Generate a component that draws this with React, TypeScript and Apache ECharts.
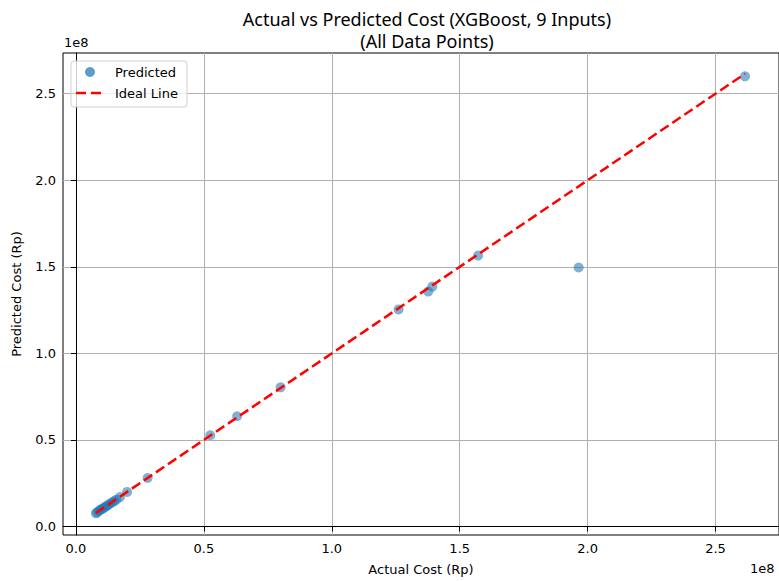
import React, { useEffect, useRef } from "react";
import * as echarts from "echarts";

const actualCost = [
  7.8e6, 8.3e6, 8.9e6, 9.5e6, 1.0e7, 1.07e7, 1.13e7, 1.2e7, 1.27e7, 1.34e7, 1.42e7, 1.5e7, 1.58e7,
  1.72e7, 2.0e7, 2.8e7, 5.25e7, 6.3e7, 8.0e7, 1.261e8, 1.377e8, 1.393e8, 1.572e8, 1.965e8, 2.615e8,
];
const predictedCost = [
  7.6e6, 8.2e6, 8.8e6, 9.7e6, 1.0e7, 1.05e7, 1.12e7, 1.19e7, 1.25e7, 1.33e7, 1.4e7, 1.47e7, 1.55e7,
  1.7e7, 2.0e7, 2.8e7, 5.27e7, 6.37e7, 8.04e7, 1.254e8, 1.357e8, 1.386e8, 1.565e8, 1.496e8, 2.6e8,
];
const xTicks = [0, 0.5e8, 1.0e8, 1.5e8, 2.0e8, 2.5e8];
const yTicks = [0, 0.5e8, 1.0e8, 1.5e8, 2.0e8, 2.5e8];
const legendLabels = ["Predicted", "Ideal Line"];

const TICK_FONT = "DejaVu Sans";
const BLUE = "rgba(31,119,180,0.72)";

export default function App() {
  const ref = useRef<HTMLDivElement>(null);
  useEffect(() => {
    if (!ref.current) return;
    const chart = echarts.init(ref.current, null, { renderer: "svg" });
    const lo = Math.min(...actualCost);
    const hi = Math.max(...actualCost);
    const scatterData = actualCost.map((a, i) => [a, predictedCost[i]]);
    const fmt = (v: number) => (v / 1e8).toFixed(1);
    chart.setOption({
      animation: false,
      backgroundColor: "#ffffff",
      title: {
        text: "Actual vs Predicted Cost (XGBoost, 9 Inputs)\n(All Data Points)",
        left: 422,
        top: 3,
        textAlign: "center",
        textStyle: {
          fontFamily: "Noto Sans",
          fontSize: 18,
          fontWeight: "normal",
          color: "#000",
          lineHeight: 22,
        },
      },
      grid: { left: 63, top: 53, width: 719, height: 483, show: true, borderColor: "#000", borderWidth: 1 },
      xAxis: {
        type: "value",
        min: -5.06e6,
        max: 2.748e8,
        name: "Actual Cost (Rp)",
        nameLocation: "middle",
        nameGap: 28,
        nameTextStyle: { fontFamily: TICK_FONT, fontSize: 13, color: "#000" },
        axisLine: { show: true, lineStyle: { color: "#000", width: 1 } },
        axisTick: { show: true, customValues: xTicks, length: 5, lineStyle: { color: "#000" } },
        axisLabel: {
          customValues: xTicks,
          formatter: fmt,
          fontFamily: TICK_FONT,
          fontSize: 13,
          color: "#000",
          margin: 7,
        },
        splitLine: { show: true, lineStyle: { color: "#b0b0b0", width: 1 } },
      },
      yAxis: {
        type: "value",
        min: -4.9e6,
        max: 2.735e8,
        name: "Predicted Cost (Rp)",
        nameLocation: "middle",
        nameGap: 40,
        nameRotate: 90,
        nameTextStyle: { fontFamily: TICK_FONT, fontSize: 13, color: "#000" },
        axisLine: { show: true, lineStyle: { color: "#000", width: 1 } },
        axisTick: { show: true, customValues: yTicks, length: 5, lineStyle: { color: "#000" } },
        axisLabel: {
          customValues: yTicks,
          formatter: fmt,
          fontFamily: TICK_FONT,
          fontSize: 13,
          color: "#000",
          margin: 7,
        },
        splitLine: { show: true, lineStyle: { color: "#b0b0b0", width: 1 } },
      },
      graphic: [
        { type: "text", left: 64, top: 36, style: { text: "1e8", fontFamily: TICK_FONT, fontSize: 13, fill: "#000" } },
        { type: "text", left: 750, top: 562, style: { text: "1e8", fontFamily: TICK_FONT, fontSize: 13, fill: "#000" } },
        {
          type: "rect",
          x: 71,
          y: 61,
          z: 100,
          shape: { x: 0, y: 0, width: 116, height: 46, r: 3 },
          style: { fill: "rgba(255,255,255,0.8)", stroke: "#d0d0d0", lineWidth: 1 },
        },
        { type: "circle", x: 90, y: 72, z: 101, shape: { cx: 0, cy: 0, r: 5 }, style: { fill: BLUE } },
        {
          type: "line",
          z: 101,
          shape: { x1: 76, y1: 93, x2: 86, y2: 93 },
          style: { stroke: "#ff0000", lineWidth: 2.5 },
        },
        {
          type: "line",
          z: 101,
          shape: { x1: 91, y1: 93, x2: 101, y2: 93 },
          style: { stroke: "#ff0000", lineWidth: 2.5 },
        },
        {
          type: "text",
          x: 115,
          y: 72,
          z: 101,
          style: { text: legendLabels[0], fontFamily: TICK_FONT, fontSize: 13, fill: "#000", verticalAlign: "middle" },
        },
        {
          type: "text",
          x: 115,
          y: 93,
          z: 101,
          style: { text: legendLabels[1], fontFamily: TICK_FONT, fontSize: 13, fill: "#000", verticalAlign: "middle" },
        },
      ],
      series: [
        {
          name: "Predicted",
          type: "scatter",
          data: scatterData,
          symbolSize: 10,
          itemStyle: { color: BLUE },
          z: 2,
        },
        {
          name: "Ideal Line",
          type: "line",
          data: [
            [lo, lo],
            [hi, hi],
          ],
          showSymbol: false,
          symbol: "none",
          lineStyle: { color: "#ff0000", width: 2.5, type: [10, 4.5] },
          z: 3,
        },
      ],
    });
    return () => chart.dispose();
  }, []);
  return (
    <div
      ref={ref}
      style={{ position: "absolute", left: 0, top: 0, width: 779, height: 581 }}
    />
  );
}
